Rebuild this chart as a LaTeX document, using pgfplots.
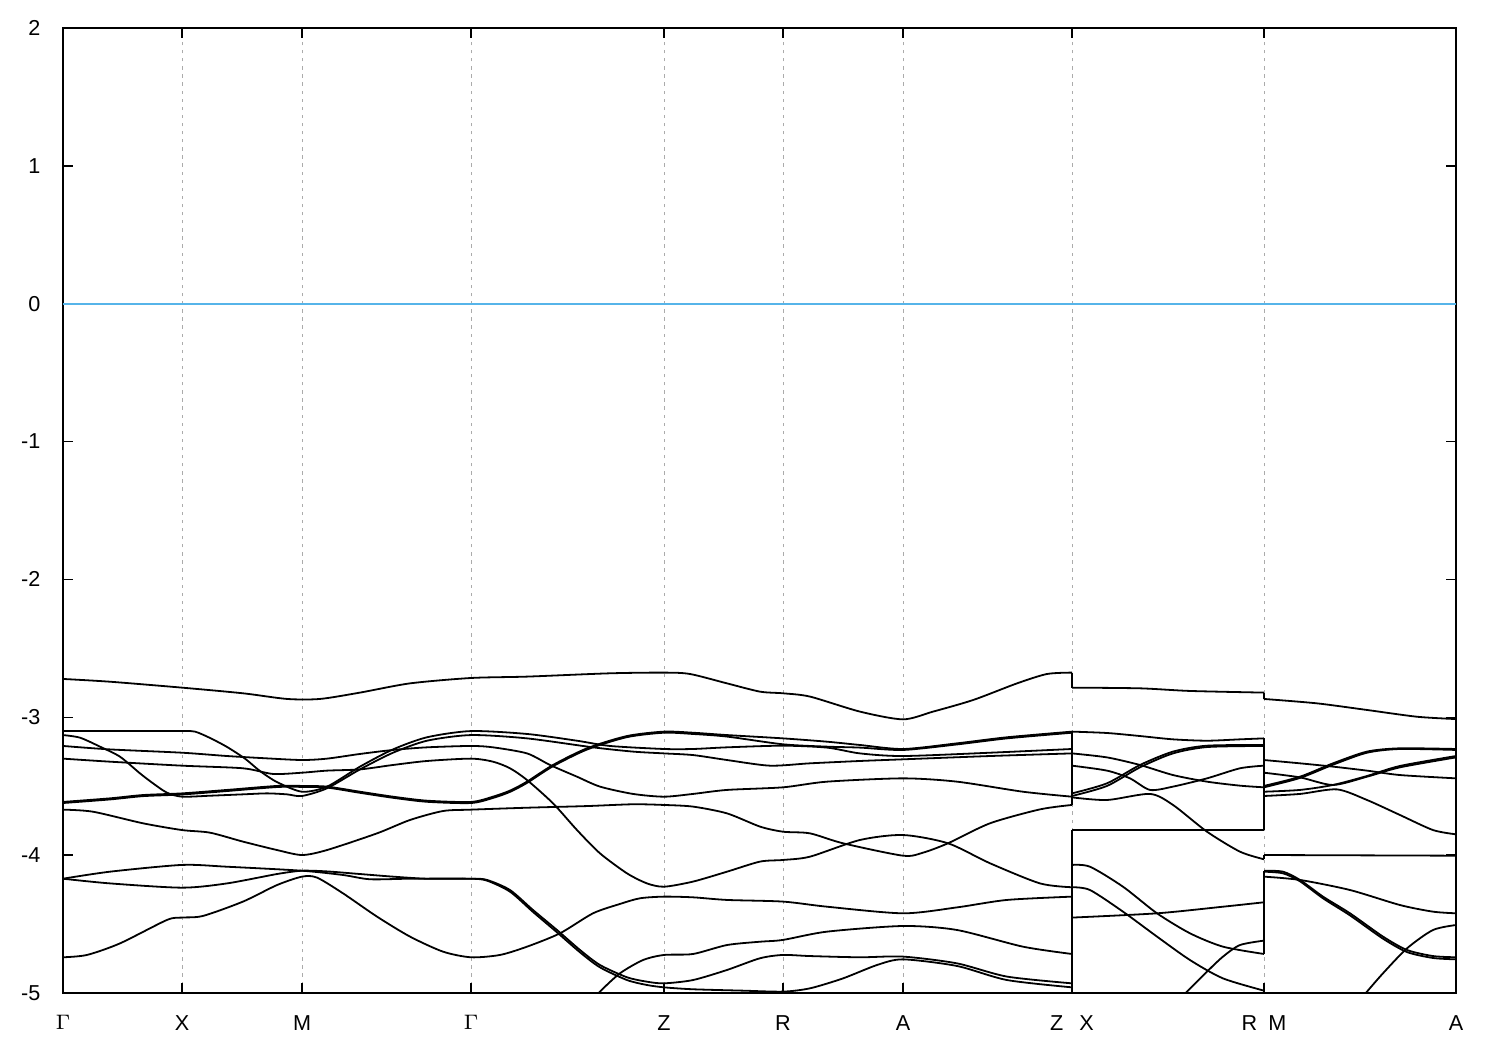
\documentclass[border=0pt]{standalone}
\usepackage{pgfplots}
\pgfplotsset{compat=1.18}
\usepackage{fontspec}
\setmainfont{Liberation Sans}
\definecolor{fermi}{HTML}{56B4E9}
\tikzset{band/.style={black, line width=0.6pt, smooth, tension=0.45},
         jump/.style={black, line width=0.6pt}}
\begin{document}
\begin{tikzpicture}
\begin{axis}[
  scale only axis, width=464.33pt, height=321.67pt,
  xmin=63, xmax=1456, ymin=-5, ymax=2,
  xtick={63,182,302,471,664,783,903,1072,1264,1456},
  xticklabels={$\Gamma$,X,M,$\Gamma$,Z,R,A,Z\hspace{5.4pt}X,R\hspace{3.8pt}M,A},
  ytick={-5,-4,-3,-2,-1,0,1,2},
  yticklabels={-5,-4,-3,-2,-1,0,1,2},
  tick align=inside, tick pos=both, major tick length=3.3pt,
  xmajorgrids, grid style={black!33, dash pattern=on 1.1pt off 1.6pt, line width=0.3pt},
  axis line style={line width=0.6pt}, tick style={black, line width=0.5pt},
  ticklabel style={font=\fontsize{7.2}{8}\selectfont},
  xticklabel shift=4pt, yticklabel shift=4pt,
  clip=true,
]
% Fermi level
\addplot[color=fermi, line width=0.6pt] coordinates {(63,0) (1456,0)};
% ---------- Segment Gamma-X-M-Gamma-Z-R-A-Z ----------
\addplot[band] coordinates {(63,-2.722) (110,-2.742) (182,-2.785) (243,-2.826) (287,-2.867) (320,-2.867) (360,-2.821) (410,-2.754) (471,-2.715) (527,-2.705) (610,-2.681) (664,-2.676) (690,-2.686) (727,-2.754) (760,-2.814) (783,-2.826) (810,-2.850) (860,-2.959) (903,-3.015) (933,-2.959) (973,-2.875) (1017,-2.754) (1047,-2.686) (1072,-2.676)};
\addplot[band] coordinates {(63,-3.100) (127,-3.100) (182,-3.100) (195,-3.104) (210,-3.150) (227,-3.215) (245,-3.300) (260,-3.390) (277,-3.470) (302,-3.540) (327,-3.503) (360,-3.358) (393,-3.233) (427,-3.145) (471,-3.100) (527,-3.121) (577,-3.170) (610,-3.208) (664,-3.230) (693,-3.230) (727,-3.218) (783,-3.206) (827,-3.220) (860,-3.262) (903,-3.281) (990,-3.257) (1072,-3.230)};
\addplot[band] coordinates {(63,-3.614) (110,-3.588) (143,-3.564) (182,-3.552) (227,-3.527) (277,-3.498) (302,-3.498) (327,-3.503) (360,-3.540) (393,-3.576) (427,-3.605) (471,-3.614) (493,-3.576) (510,-3.532) (527,-3.467) (553,-3.346) (587,-3.225) (627,-3.136) (664,-3.104) (693,-3.112) (727,-3.129) (783,-3.153) (827,-3.177) (860,-3.201) (903,-3.230) (957,-3.189) (1007,-3.145) (1072,-3.104)};
\addplot[band] coordinates {(63,-3.622) (110,-3.596) (143,-3.572) (182,-3.560) (227,-3.535) (277,-3.506) (302,-3.505) (327,-3.510) (360,-3.548) (393,-3.584) (427,-3.613) (471,-3.622) (493,-3.585) (510,-3.541) (527,-3.476) (553,-3.355) (587,-3.234) (627,-3.144) (664,-3.112) (693,-3.121) (727,-3.140) (783,-3.196) (827,-3.213) (860,-3.220) (903,-3.237) (957,-3.197) (1007,-3.153) (1072,-3.112)};
\addplot[band] coordinates {(63,-3.129) (80,-3.148) (100,-3.213) (120,-3.286) (140,-3.407) (153,-3.479) (167,-3.547) (182,-3.576) (210,-3.569) (243,-3.559) (267,-3.552) (287,-3.559) (302,-3.571) (327,-3.515) (360,-3.378) (393,-3.257) (427,-3.170) (471,-3.129) (527,-3.153) (593,-3.218) (633,-3.249) (664,-3.262) (693,-3.274) (727,-3.310) (770,-3.351) (810,-3.334) (860,-3.317) (903,-3.305) (990,-3.281) (1072,-3.262)};
\addplot[band] coordinates {(63,-3.208) (110,-3.233) (182,-3.257) (227,-3.281) (267,-3.298) (302,-3.310) (327,-3.300) (360,-3.266) (393,-3.237) (427,-3.218) (471,-3.208) (493,-3.218) (527,-3.262) (550,-3.346) (577,-3.431) (600,-3.503) (633,-3.556) (664,-3.576) (693,-3.556) (727,-3.527) (783,-3.508) (827,-3.467) (903,-3.443) (957,-3.467) (1023,-3.540) (1072,-3.576)};
\addplot[band] coordinates {(63,-3.300) (110,-3.322) (182,-3.351) (243,-3.370) (273,-3.411) (302,-3.402) (327,-3.387) (360,-3.378) (393,-3.346) (427,-3.317) (471,-3.300) (493,-3.322) (510,-3.370) (527,-3.455) (553,-3.624) (577,-3.818) (600,-3.987) (627,-4.132) (647,-4.205) (664,-4.229) (693,-4.192) (727,-4.120) (760,-4.047) (783,-4.035) (810,-4.011) (860,-3.890) (903,-3.854) (948,-3.914) (990,-4.059) (1040,-4.205) (1072,-4.233)};
\addplot[band] coordinates {(63,-3.670) (93,-3.685) (143,-3.769) (182,-3.818) (210,-3.837) (243,-3.902) (277,-3.963) (302,-3.999) (327,-3.963) (377,-3.842) (410,-3.745) (443,-3.680) (471,-3.670) (527,-3.656) (587,-3.644) (633,-3.631) (664,-3.636) (693,-3.648) (727,-3.697) (760,-3.793) (783,-3.830) (810,-3.842) (843,-3.914) (903,-4.004) (923,-3.982) (948,-3.914) (990,-3.769) (1040,-3.668) (1072,-3.636)};
\addplot[band] coordinates {(63,-4.171) (110,-4.120) (182,-4.071) (227,-4.084) (302,-4.113) (343,-4.144) (370,-4.175) (410,-4.171) (471,-4.171) (487,-4.180) (510,-4.253) (533,-4.398) (557,-4.543) (580,-4.688) (600,-4.797) (627,-4.886) (647,-4.918) (664,-4.930) (693,-4.906) (727,-4.833) (760,-4.748) (783,-4.724) (810,-4.732) (860,-4.741) (903,-4.736) (957,-4.785) (1007,-4.881) (1072,-4.930)};
\addplot[band] coordinates {(63,-4.171) (110,-4.205) (182,-4.236) (227,-4.205) (277,-4.137) (302,-4.113) (327,-4.118) (360,-4.137) (393,-4.156) (427,-4.171) (471,-4.171) (487,-4.185) (510,-4.265) (533,-4.412) (557,-4.560) (580,-4.705) (600,-4.814) (627,-4.906) (647,-4.942) (664,-4.959) (693,-4.973) (743,-4.983) (783,-4.990) (810,-4.966) (843,-4.894) (877,-4.797) (903,-4.756) (957,-4.804) (1007,-4.906) (1072,-4.959)};
\addplot[band] coordinates {(63,-4.741) (87,-4.724) (120,-4.640) (167,-4.470) (182,-4.453) (203,-4.441) (243,-4.337) (277,-4.217) (302,-4.156) (317,-4.163) (343,-4.277) (377,-4.446) (410,-4.591) (443,-4.700) (471,-4.741) (500,-4.724) (527,-4.664) (560,-4.567) (593,-4.422) (620,-4.354) (640,-4.313) (664,-4.301) (693,-4.306) (727,-4.325) (783,-4.337) (827,-4.374) (903,-4.422) (957,-4.379) (1007,-4.325) (1072,-4.301)};
\addplot[band] coordinates {(587,-5.099) (600,-4.990) (620,-4.857) (643,-4.761) (664,-4.724) (693,-4.717) (727,-4.652) (760,-4.628) (783,-4.615) (827,-4.555) (903,-4.514) (957,-4.543) (1023,-4.664) (1072,-4.717)};
% ---------- Segment X-R ----------
\addplot[band] coordinates {(1072,-2.785) (1140,-2.790) (1190,-2.809) (1264,-2.821)};
\addplot[band] coordinates {(1072,-3.104) (1107,-3.114) (1140,-3.136) (1173,-3.160) (1207,-3.170) (1240,-3.160) (1264,-3.153)};
\addplot[band] coordinates {(1072,-3.262) (1107,-3.291) (1140,-3.346) (1173,-3.419) (1207,-3.467) (1240,-3.496) (1264,-3.508)};
\addplot[band] coordinates {(1072,-3.351) (1107,-3.387) (1130,-3.443) (1150,-3.527) (1173,-3.503) (1207,-3.443) (1240,-3.370) (1264,-3.351)};
\addplot[band] coordinates {(1072,-3.552) (1107,-3.479) (1140,-3.346) (1173,-3.249) (1207,-3.206) (1264,-3.201)};
\addplot[band] coordinates {(1072,-3.571) (1107,-3.498) (1140,-3.363) (1173,-3.262) (1207,-3.216) (1264,-3.208)};
\addplot[band] coordinates {(1072,-3.581) (1107,-3.600) (1150,-3.556) (1173,-3.636) (1207,-3.830) (1240,-3.975) (1264,-4.030)};
\addplot[band] coordinates {(1072,-3.818) (1264,-3.818)};
\addplot[band] coordinates {(1072,-4.071) (1090,-4.084) (1123,-4.229) (1157,-4.422) (1190,-4.567) (1223,-4.664) (1264,-4.717)};
\addplot[band] coordinates {(1072,-4.233) (1090,-4.253) (1123,-4.410) (1157,-4.591) (1190,-4.761) (1223,-4.894) (1264,-4.983)};
\addplot[band] coordinates {(1072,-4.453) (1157,-4.422) (1223,-4.374) (1264,-4.342)};
\addplot[band] coordinates {(1180,-5.051) (1187,-4.990) (1207,-4.845) (1223,-4.736) (1240,-4.652) (1264,-4.620)};
% ---------- Segment M-A ----------
\addplot[band] coordinates {(1264,-2.867) (1317,-2.899) (1367,-2.947) (1417,-2.996) (1456,-3.013)};
\addplot[band] coordinates {(1264,-3.498) (1300,-3.431) (1333,-3.334) (1367,-3.249) (1400,-3.225) (1456,-3.230)};
\addplot[band] coordinates {(1264,-3.508) (1300,-3.440) (1333,-3.344) (1367,-3.257) (1400,-3.230) (1456,-3.237)};
\addplot[band] coordinates {(1264,-3.310) (1300,-3.334) (1333,-3.358) (1367,-3.387) (1400,-3.419) (1456,-3.443)};
\addplot[band] coordinates {(1264,-3.402) (1300,-3.436) (1333,-3.491) (1367,-3.431) (1400,-3.363) (1456,-3.291)};
\addplot[band] coordinates {(1264,-3.540) (1300,-3.527) (1333,-3.491) (1367,-3.426) (1400,-3.353) (1456,-3.281)};
\addplot[band] coordinates {(1264,-3.571) (1300,-3.556) (1337,-3.523) (1367,-3.600) (1400,-3.709) (1433,-3.818) (1456,-3.849)};
\addplot[band] coordinates {(1264,-3.999) (1456,-4.004)};
\addplot[band] coordinates {(1264,-4.113) (1283,-4.120) (1300,-4.180) (1323,-4.301) (1350,-4.422) (1383,-4.591) (1407,-4.688) (1433,-4.732) (1456,-4.741)};
\addplot[band] coordinates {(1264,-4.120) (1283,-4.132) (1300,-4.190) (1323,-4.313) (1350,-4.437) (1383,-4.606) (1407,-4.703) (1433,-4.746) (1456,-4.756)};
\addplot[band] coordinates {(1264,-4.156) (1300,-4.180) (1350,-4.253) (1400,-4.362) (1433,-4.410) (1456,-4.422)};
\addplot[band] coordinates {(1360,-5.051) (1367,-4.990) (1383,-4.857) (1407,-4.676) (1433,-4.543) (1456,-4.507)};
% ---------- jumps at path breaks ----------
\addplot[jump] coordinates {(1072,-2.676) (1072,-2.785)};
\addplot[jump] coordinates {(1072,-3.104) (1072,-3.636)};
\addplot[jump] coordinates {(1072,-3.818) (1072,-5.05)};
\addplot[jump] coordinates {(1264,-2.821) (1264,-2.867)};
\addplot[jump] coordinates {(1264,-3.153) (1264,-3.818)};
\addplot[jump] coordinates {(1264,-3.999) (1264,-4.030)};
\addplot[jump] coordinates {(1264,-4.113) (1264,-4.717)};
\addplot[jump] coordinates {(1264,-4.983) (1264,-5.05)};
\end{axis}
\path[use as bounding box] (-21pt,-19pt) rectangle (479pt,331pt);
\end{tikzpicture}
\end{document}
